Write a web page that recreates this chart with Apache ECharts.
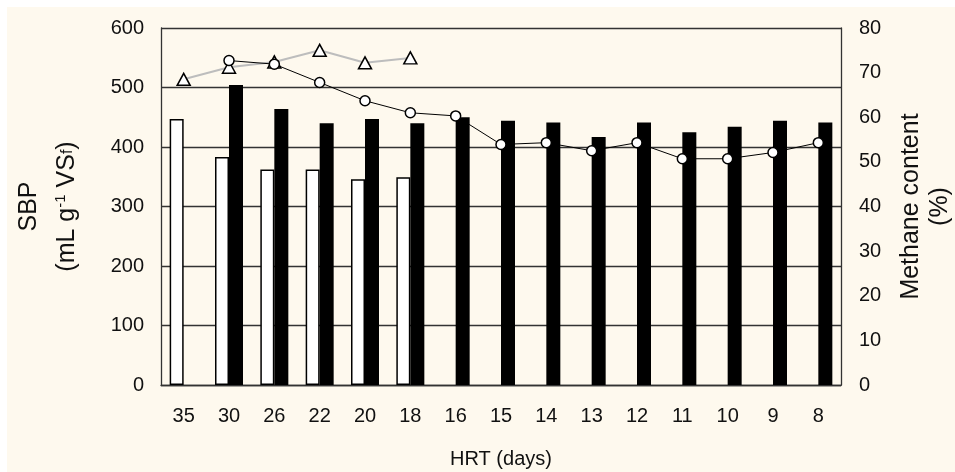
<!DOCTYPE html>
<html>
<head>
<meta charset="utf-8">
<script src="https://cdn.jsdelivr.net/npm/echarts@6/dist/echarts.min.js"></script>
<style>
html, body { margin: 0; padding: 0; background: #ffffff; }
#chart { width: 955px; height: 472px; }
</style>
</head>
<body>
<div id="chart"></div>
<script>
// Hydraulic retention time (days), one category per operating period
const hrtDays = ['35', '30', '26', '22', '20', '18', '16', '15', '14', '13', '12', '11', '10', '9', '8'];

// Specific biogas production, mL g-1 VSf (left axis)
const sbpOpen  = [447, 383, 362, 362, 346, 349, null, null, null, null, null, null, null, null, null];
const sbpSolid = [null, 504, 464, 440, 447, 440, 450, 444, 441, 417, 441, 425, 434, 444, 441];

// Methane content, % (right axis)
const methaneTriangle = [68.5, 71.2, 72.4, 75.0, 72.2, 73.3, null, null, null, null, null, null, null, null, null];
const methaneCircle   = [null, 72.7, 71.9, 67.8, 63.7, 61.0, 60.3, 53.9, 54.3, 52.5, 54.3, 50.7, 50.7, 52.1, 54.3];

const FONT = 'Arial, "Liberation Sans", sans-serif';
const INK = '#111111';
const RULE = '#333333';

const chart = echarts.init(document.getElementById('chart'), null, { renderer: 'canvas' });

chart.setOption({
  backgroundColor: '#ffffff',
  animation: false,
  textStyle: { fontFamily: FONT, color: INK },
  graphic: [{
    type: 'rect',
    z: -100,
    silent: true,
    shape: { x: 7, y: 7, width: 948, height: 465 },
    style: { fill: '#fef9ee' }
  }],
  grid: {
    left: 161, right: 114, top: 28, bottom: 87,
    containLabel: false,
    outerBoundsMode: 'none'
  },
  xAxis: {
    type: 'category',
    data: hrtDays,
    name: 'HRT (days)',
    nameLocation: 'middle',
    nameGap: 64,
    nameTextStyle: { fontSize: 20, color: INK, fontFamily: FONT },
    axisLine: { show: true, lineStyle: { color: RULE, width: 1.3 } },
    axisTick: { show: false },
    axisLabel: { fontSize: 20, color: INK, margin: 21, fontFamily: FONT },
    splitLine: { show: false }
  },
  yAxis: [{
    type: 'value',
    min: 0, max: 600, interval: 100,
    position: 'left',
    name: '{t|SBP}\n{t|(mL g}{sup|-1}{t| VS}{sub|f}{t|)}',
    nameLocation: 'middle',
    nameGap: 75,
    nameTextStyle: {
      color: INK, fontFamily: FONT, fontSize: 25,
      rich: {
        t: { fontSize: 25, color: INK, fontFamily: FONT, lineHeight: 38 },
        sup: { fontSize: 15, color: INK, fontFamily: FONT, lineHeight: 38, padding: [0, 0, 12, 0] },
        sub: { fontSize: 16, color: INK, fontFamily: FONT, lineHeight: 38, padding: [2, 0, 0, 0] }
      }
    },
    axisLine: { show: true, lineStyle: { color: RULE, width: 1.3 } },
    axisTick: { show: false },
    axisLabel: { fontSize: 20, color: INK, margin: 17, fontFamily: FONT },
    splitLine: { show: true, lineStyle: { color: RULE, width: 1.3 } }
  }, {
    type: 'value',
    min: 0, max: 80, interval: 10,
    position: 'right',
    name: 'Methane content\n(%)',
    nameLocation: 'middle',
    nameGap: 56,
    nameTextStyle: { fontSize: 25, color: INK, fontFamily: FONT, lineHeight: 29 },
    axisLine: { show: true, lineStyle: { color: RULE, width: 1.3 } },
    axisTick: { show: false },
    axisLabel: { fontSize: 20, color: INK, margin: 18, fontFamily: FONT },
    splitLine: { show: false }
  }],
  series: [{
    name: 'SBP open',
    type: 'bar',
    data: sbpOpen,
    barWidth: 14,
    barGap: '0%',
    itemStyle: { color: '#ffffff', borderColor: '#000000', borderWidth: 1.5 },
    z: 2
  }, {
    name: 'SBP solid',
    type: 'bar',
    data: sbpSolid,
    barWidth: 14,
    barGap: '0%',
    itemStyle: { color: '#000000' },
    z: 2
  }, {
    name: 'Methane triangle',
    type: 'line',
    yAxisIndex: 1,
    data: methaneTriangle,
    symbol: 'triangle',
    symbolSize: [13, 12],
    lineStyle: { color: '#bdbdbd', width: 2 },
    itemStyle: { color: '#ffffff', borderColor: '#000000', borderWidth: 1.5 },
    z: 3
  }, {
    name: 'Methane circle',
    type: 'line',
    yAxisIndex: 1,
    data: methaneCircle,
    symbol: 'circle',
    symbolSize: 10,
    lineStyle: { color: '#000000', width: 1 },
    itemStyle: { color: '#ffffff', borderColor: '#000000', borderWidth: 1.5 },
    z: 4
  }]
});
</script>
</body>
</html>
